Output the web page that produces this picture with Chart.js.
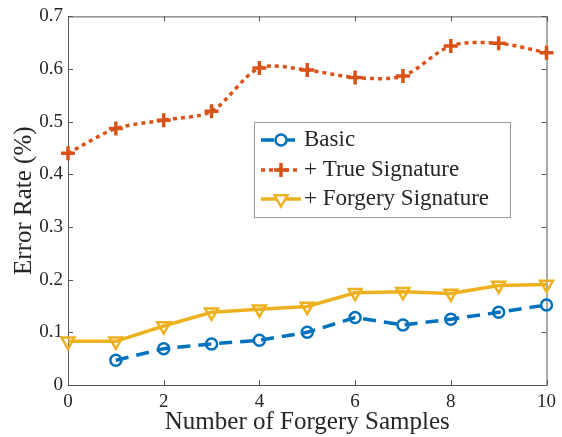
<!DOCTYPE html>
<html>
<head>
<meta charset="utf-8">
<script src="https://cdn.jsdelivr.net/npm/chart.js@4/dist/chart.umd.min.js"></script>
<style>
  html, body { margin: 0; padding: 0; background: #ffffff; }
  #wrap { width: 562px; height: 437px; position: relative; }
</style>
</head>
<body>
<div id="wrap"><canvas id="c" width="562" height="437"></canvas></div>
<script>
// Error rate vs. number of forgery samples, for three training setups
const forgerySamples = [0, 1, 2, 3, 4, 5, 6, 7, 8, 9, 10];
const basicRate      = [null, 0.047, 0.069, 0.078, 0.085, 0.100, 0.128, 0.114, 0.125, 0.138, 0.152];
const trueSigRate    = [0.440, 0.487, 0.503, 0.520, 0.602, 0.598, 0.584, 0.587, 0.644, 0.649, 0.631];
const forgerySigRate = [0.083, 0.083, 0.112, 0.138, 0.144, 0.149, 0.175, 0.177, 0.174, 0.189, 0.191];
const seriesNames = ['Basic', '+ True Signature', '+ Forgery Signature'];
const xTickValues = [0, 2, 4, 6, 8, 10];
const yTickValues = [0, 0.1, 0.2, 0.3, 0.4, 0.5, 0.6, 0.7];

const FONT = '"Liberation Serif", serif';
const TEXT = '#262626';
const AXIS = '#555555';

function points(values) {
  return forgerySamples.map((x, i) => ({ x: x, y: values[i] }));
}

// Box around the plot area with inward tick marks on all four sides
const frame = {
  id: 'frame',
  beforeDatasetsDraw(chart) {
    const { ctx, chartArea: a, scales } = chart;
    ctx.save();
    ctx.strokeStyle = AXIS;
    ctx.lineWidth = 1;
    ctx.strokeRect(a.left + 0.5, a.top + 0.5, a.right - a.left, a.bottom - a.top);
    const len = 5;
    ctx.beginPath();
    yTickValues.forEach(v => {
      const y = Math.round(scales.y.getPixelForValue(v)) + 0.5;
      ctx.moveTo(a.left, y); ctx.lineTo(a.left + len, y);
      ctx.moveTo(a.right, y); ctx.lineTo(a.right - len, y);
    });
    xTickValues.forEach(v => {
      const x = Math.round(scales.x.getPixelForValue(v)) + 0.5;
      ctx.moveTo(x, a.bottom); ctx.lineTo(x, a.bottom - len);
      ctx.moveTo(x, a.top); ctx.lineTo(x, a.top + len);
    });
    ctx.stroke();
    ctx.restore();
  }
};

// Boxed legend inside the plot area
const boxLegend = {
  id: 'boxLegend',
  afterDraw(chart) {
    const { ctx } = chart;
    const box = { x: 254.5, y: 122.5, w: 256, h: 95 };
    ctx.save();
    ctx.fillStyle = '#ffffff';
    ctx.fillRect(box.x, box.y, box.w, box.h);
    ctx.strokeStyle = '#999999';
    ctx.lineWidth = 1;
    ctx.strokeRect(box.x, box.y, box.w, box.h);
    const rows = [140, 170, 199];
    chart.data.datasets.forEach((ds, i) => {
      const y = rows[i];
      ctx.save();
      ctx.strokeStyle = ds.borderColor;
      ctx.lineWidth = ds.borderWidth;
      ctx.setLineDash(ds.borderDash || []);
      ctx.beginPath();
      ctx.moveTo(261, y); ctx.lineTo(301, y);
      ctx.stroke();
      ctx.setLineDash([]);
      ctx.strokeStyle = ds.pointBorderColor;
      ctx.fillStyle = '#ffffff';
      ctx.lineWidth = ds.pointBorderWidth;
      Chart.helpers.drawPoint(ctx, {
        pointStyle: ds.pointStyle,
        radius: ds.pointRadius,
        rotation: ds.pointRotation || 0,
        borderWidth: ds.pointBorderWidth
      }, 281, y);
      ctx.restore();
      ctx.fillStyle = TEXT;
      ctx.font = '23px ' + FONT;
      ctx.textBaseline = 'middle';
      ctx.textAlign = 'left';
      ctx.fillText(ds.label, 304, y);
    });
    ctx.restore();
  }
};

const chart = new Chart(document.getElementById('c'), {
  type: 'line',
  data: {
    datasets: [
      {
        label: seriesNames[0],
        data: points(basicRate),
        borderColor: '#0072BD',
        backgroundColor: 'rgba(0,0,0,0)',
        borderWidth: 3.5,
        borderDash: [13, 8],
        pointStyle: 'circle',
        pointRadius: 5.5,
        pointBorderWidth: 2.5,
        pointBorderColor: '#0072BD',
        pointBackgroundColor: 'rgba(0,0,0,0)',
        tension: 0,
        clip: false
      },
      {
        label: seriesNames[1],
        data: points(trueSigRate),
        borderColor: '#D95319',
        backgroundColor: 'rgba(0,0,0,0)',
        borderWidth: 3.5,
        borderDash: [4, 4],
        pointStyle: 'cross',
        pointRadius: 7,
        pointBorderWidth: 3.5,
        pointBorderColor: '#D95319',
        pointBackgroundColor: 'rgba(0,0,0,0)',
        tension: 0.3,
        clip: false
      },
      {
        label: seriesNames[2],
        data: points(forgerySigRate),
        borderColor: '#EDB120',
        backgroundColor: 'rgba(0,0,0,0)',
        borderWidth: 3.5,
        pointStyle: 'triangle',
        pointRotation: 180,
        pointRadius: 7.5,
        pointBorderWidth: 2.5,
        pointBorderColor: '#EDB120',
        pointBackgroundColor: 'rgba(0,0,0,0)',
        tension: 0,
        clip: false
      }
    ]
  },
  options: {
    responsive: false,
    animation: false,
    devicePixelRatio: 1,
    layout: { padding: { top: 14, right: 13, left: 0, bottom: 0 } },
    plugins: { legend: { display: false }, tooltip: { enabled: false } },
    scales: {
      x: {
        type: 'linear',
        min: 0, max: 10,
        afterBuildTicks(s) { s.ticks = xTickValues.map(v => ({ value: v })); },
        afterFit(s) { s.height = 52; },
        grid: { display: false, drawTicks: false },
        border: { display: false },
        ticks: { font: { family: FONT, size: 19 }, color: TEXT, padding: 6, maxRotation: 0 },
        title: { display: true, text: 'Number of Forgery Samples', font: { family: FONT, size: 25 }, color: TEXT, padding: { top: 0, bottom: 0 } }
      },
      y: {
        type: 'linear',
        min: 0, max: 0.7,
        afterBuildTicks(s) { s.ticks = yTickValues.map(v => ({ value: v })); },
        afterFit(s) { s.width = 68; },
        grid: { display: false, drawTicks: false },
        border: { display: false },
        ticks: {
          font: { family: FONT, size: 19 }, color: TEXT, padding: 5,
          callback: v => (v === 0 ? '0' : v.toFixed(1))
        },
        title: { display: true, text: 'Error Rate (%)', font: { family: FONT, size: 25 }, color: TEXT, padding: { top: 9, bottom: 0 } }
      }
    }
  },
  plugins: [frame, boxLegend]
});
</script>
</body>
</html>
